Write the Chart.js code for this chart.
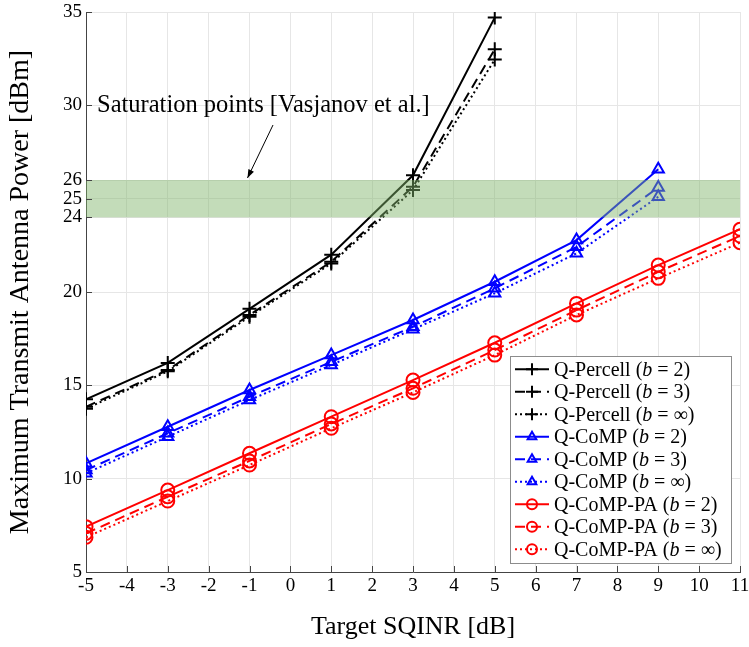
<!DOCTYPE html>
<html>
<head>
<meta charset="utf-8">
<script src="https://cdn.jsdelivr.net/npm/chart.js@4.4.1/dist/chart.umd.min.js"></script>
<style>html,body{margin:0;padding:0;background:#fff}</style>
</head>
<body>
<canvas id="c" width="749" height="647"></canvas>
<script>
// target SQINR [dB]
const sqinr = [-5, -3, -1, 1, 3, 5, 7, 9, 11];
const yTicks = [5, 10, 15, 20, 24, 25, 26, 30, 35];

// Q-Percell
const percell2 = [14.25, 16.2, 19.1, 22.0, 26.25, 34.7];
const percell3 = [13.85, 15.82, 18.77, 21.62, 25.64, 33.0];
const percellInf = [13.75, 15.75, 18.68, 21.53, 25.46, 32.45];
// Q-CoMP
const comp2 = [10.82, 12.78, 14.75, 16.62, 18.5, 20.55, 22.78, 26.57];
const comp3 = [10.46, 12.43, 14.39, 16.26, 18.14, 20.2, 22.42, 25.6];
const compInf = [10.29, 12.25, 14.21, 16.09, 18.0, 19.93, 22.07, 25.1];
// Q-CoMP-PA
const pa2 = [7.43, 9.39, 11.36, 13.32, 15.28, 17.28, 19.39, 21.44, 23.36];
const pa3 = [7.07, 9.03, 10.95, 12.93, 14.84, 16.89, 19.03, 21.08, 23.0];
const paInf = [6.86, 8.8, 10.73, 12.7, 14.62, 16.62, 18.77, 20.73, 22.64];

const bandLow = 24, bandHigh = 26;

function pts(vals) {
  return vals.map((v, i) => ({ x: sqinr[i], y: v }));
}

const SOLID = [], DASH = [10, 6], DOT = [2, 3];

function series(label, bval, vals, color, dash, style) {
  return {
    label: label,
    bval: bval,
    data: pts(vals),
    borderColor: color,
    backgroundColor: 'rgba(0,0,0,0)',
    borderWidth: 2,
    borderDash: dash,
    pointStyle: style,
    pointRadius: style === 'cross' ? 7 : 6.5,
    pointBorderWidth: 2,
    pointBorderColor: color,
    pointBackgroundColor: 'rgba(0,0,0,0)',
    tension: 0,
    fill: false
  };
}

const datasets = [
  series('Q-Percell', '2', percell2, '#000000', SOLID, 'cross'),
  series('Q-Percell', '3', percell3, '#000000', DASH, 'cross'),
  series('Q-Percell', '\u221e', percellInf, '#000000', DOT, 'cross'),
  series('Q-CoMP', '2', comp2, '#0000ff', SOLID, 'triangle'),
  series('Q-CoMP', '3', comp3, '#0000ff', DASH, 'triangle'),
  series('Q-CoMP', '\u221e', compInf, '#0000ff', DOT, 'triangle'),
  series('Q-CoMP-PA', '2', pa2, '#ff0000', SOLID, 'circle'),
  series('Q-CoMP-PA', '3', pa3, '#ff0000', DASH, 'circle'),
  series('Q-CoMP-PA', '\u221e', paInf, '#ff0000', DOT, 'circle')
];

const SERIF = '"Liberation Serif", "DejaVu Serif", serif';

// green saturation band, drawn over the lines
const bandPlugin = {
  id: 'band',
  afterDatasetsDraw(chart) {
    const { ctx, chartArea, scales } = chart;
    const y1 = scales.y.getPixelForValue(bandHigh);
    const y2 = scales.y.getPixelForValue(bandLow);
    ctx.save();
    ctx.fillStyle = 'rgba(128,181,106,0.47)';
    ctx.fillRect(chartArea.left, y1, chartArea.right - chartArea.left, y2 - y1);
    ctx.restore();
  }
};

// inward tick marks
const tickPlugin = {
  id: 'inTicks',
  afterDraw(chart) {
    const { ctx, chartArea, scales } = chart;
    ctx.save();
    ctx.strokeStyle = '#444';
    ctx.lineWidth = 1;
    ctx.beginPath();
    scales.x.ticks.forEach(t => {
      const x = Math.round(scales.x.getPixelForValue(t.value)) + 0.5;
      ctx.moveTo(x, chartArea.bottom);
      ctx.lineTo(x, chartArea.bottom - 6);
    });
    scales.y.ticks.forEach(t => {
      const y = Math.round(scales.y.getPixelForValue(t.value)) + 0.5;
      ctx.moveTo(chartArea.left, y);
      ctx.lineTo(chartArea.left + 6, y);
    });
    ctx.stroke();
    ctx.restore();
  }
};

// annotation text + arrow, and the legend box
const overlayPlugin = {
  id: 'overlay',
  afterDraw(chart) {
    const { ctx } = chart;
    ctx.save();
    ctx.fillStyle = '#000';
    ctx.font = '24.5px ' + SERIF;
    ctx.textBaseline = 'middle';
    ctx.textAlign = 'left';
    ctx.fillText('Saturation points [Vasjanov et al.]', 97, 106);
    // arrow
    const ax = 273, ay = 125, bx = 247.5, by = 178;
    ctx.strokeStyle = '#000';
    ctx.lineWidth = 1;
    ctx.beginPath();
    ctx.moveTo(ax, ay);
    ctx.lineTo(bx, by);
    ctx.stroke();
    const ang = Math.atan2(by - ay, bx - ax);
    ctx.beginPath();
    ctx.moveTo(bx, by);
    ctx.lineTo(bx - 9 * Math.cos(ang - 0.35), by - 9 * Math.sin(ang - 0.35));
    ctx.lineTo(bx - 9 * Math.cos(ang + 0.35), by - 9 * Math.sin(ang + 0.35));
    ctx.closePath();
    ctx.fill();

    // legend
    const lx = 510.5, ly = 356.5, lw = 221, lh = 207;
    ctx.fillStyle = '#fff';
    ctx.fillRect(lx, ly, lw, lh);
    ctx.strokeStyle = '#8c8c8c';
    ctx.lineWidth = 1;
    ctx.strokeRect(lx, ly, lw, lh);
    chart.data.datasets.forEach((ds, i) => {
      const y = 369.3 + i * 22.5;
      ctx.save();
      ctx.strokeStyle = ds.borderColor;
      ctx.lineWidth = 2;
      ctx.setLineDash(ds.borderDash);
      ctx.beginPath();
      ctx.moveTo(515, y);
      ctx.lineTo(549, y);
      ctx.stroke();
      ctx.setLineDash([]);
      ctx.fillStyle = 'rgba(0,0,0,0)';
      Chart.helpers.drawPoint(ctx, {
        pointStyle: ds.pointStyle,
        radius: ds.pointStyle === 'cross' ? 6 : 5,
        rotation: 0,
        borderWidth: 2
      }, 532, y);
      ctx.restore();
      // text with italic b
      let x = 554;
      const parts = [
        [ds.label + ' (', '20px ' + SERIF],
        ['b', 'italic 20px ' + SERIF],
        [' = ' + ds.bval + ')', '20px ' + SERIF]
      ];
      ctx.fillStyle = '#000';
      parts.forEach(p => {
        ctx.font = p[1];
        ctx.fillText(p[0], x, y + 1);
        x += ctx.measureText(p[0]).width;
      });
    });
    ctx.restore();
  }
};

new Chart(document.getElementById('c'), {
  type: 'line',
  data: { datasets: datasets },
  options: {
    responsive: false,
    devicePixelRatio: 1,
    animation: false,
    layout: { padding: { top: 12, right: 9, left: 0, bottom: 0 } },
    plugins: {
      legend: { display: false },
      tooltip: { enabled: false }
    },
    scales: {
      x: {
        type: 'linear',
        min: -5,
        max: 11,
        afterFit(s) { s.height = 75; s.paddingRight = 0; s.paddingLeft = 0; },
        ticks: {
          stepSize: 1,
          color: '#000',
          font: { family: SERIF, size: 19 },
          padding: 3,
          maxRotation: 0
        },
        grid: { color: '#e6e6e6', drawTicks: false },
        border: { color: '#444', width: 1 },
        title: {
          display: true,
          text: 'Target SQINR [dB]',
          color: '#000',
          font: { family: SERIF, size: 26 },
          padding: { top: 6 }
        }
      },
      y: {
        type: 'linear',
        min: 5,
        max: 35,
        afterFit(s) { s.width = 86; s.paddingTop = 0; s.paddingBottom = 0; },
        afterBuildTicks(s) { s.ticks = yTicks.map(v => ({ value: v })); },
        ticks: {
          color: '#000',
          font: { family: SERIF, size: 19 },
          padding: 4,
          autoSkip: false
        },
        grid: { color: '#e6e6e6', drawTicks: false },
        border: { color: '#444', width: 1 },
        title: {
          display: true,
          text: 'Maximum Transmit Antenna Power [dBm]',
          color: '#000',
          font: { family: SERIF, size: 28 },
          padding: { top: 4, bottom: 4 }
        }
      }
    }
  },
  plugins: [bandPlugin, tickPlugin, overlayPlugin]
});
</script>
</body>
</html>
